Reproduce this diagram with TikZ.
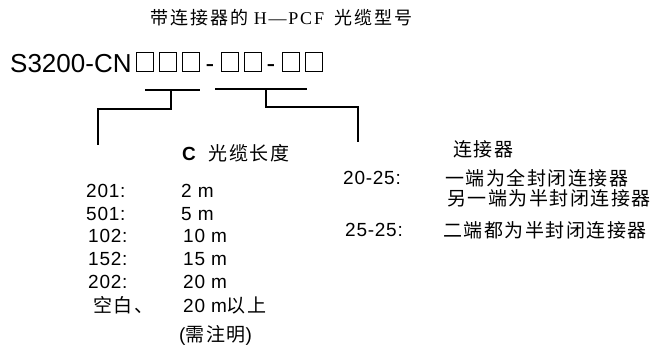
\documentclass[tikz,border=0pt]{standalone}
\usepackage{fontspec}
\setmainfont{Liberation Sans}
\newfontfamily\cjk[LetterSpace=8]{Noto Sans CJK SC}
\newfontfamily\titlecjk[LetterSpace=12]{Noto Sans CJK SC}
\newfontfamily\latin[LetterSpace=4]{Liberation Sans}
\newfontfamily\serifpart[LetterSpace=10]{Liberation Serif}
\usetikzlibrary{positioning}

\begin{document}
\begin{tikzpicture}[
    x=1pt,y=-1pt,
    txt/.style={
        inner sep=0pt,
        anchor=west,
        font=\fontsize{19}{19}\selectfont\latin
    },
    cjktxt/.style={
        inner sep=0pt,
        anchor=west,
        font=\fontsize{19}{19}\selectfont\cjk
    },
    slot/.style={
        draw,
        line width=1pt,
        anchor=south west,
        minimum width=17pt,
        minimum height=19pt,
        inner sep=0pt
    },
    bar/.style={
        line width=1.6pt
    }
]
\useasboundingbox (0,0) rectangle (655,345);

\node[cjktxt,font=\fontsize{18}{18}\selectfont\titlecjk] (title) at (150,18)
    {带连接器的\hspace{5pt}{\fontsize{18}{18}\selectfont\serifpart H—PCF}\hspace{10pt}光缆型号};

\node[inner sep=0pt,anchor=base west,font=\fontsize{26}{26}\selectfont] (model) at (10,72) {S3200-CN};
\node[slot] (slot1) at (136,72) {};
\node[slot] (slot2) at (159,72) {};
\node[slot] (slot3) at (182,72) {};
\node[inner sep=0pt,anchor=base,font=\fontsize{26}{26}\selectfont] (dash1) at (210,72) {-};
\node[slot] (slot4) at (220.5,72) {};
\node[slot] (slot5) at (243.5,72) {};
\node[inner sep=0pt,anchor=base,font=\fontsize{26}{26}\selectfont] (dash2) at (271,72) {-};
\node[slot] (slot6) at (282,72) {};
\node[slot] (slot7) at (305,72) {};

\coordinate (lenbarL) at (145,90);
\coordinate (lenbarR) at (200,90);
\coordinate (lenstem) at (171,90);
\coordinate (lenleg) at (98,145);
\coordinate (conbarL) at (215,89);
\coordinate (conbarR) at (307,89);
\coordinate (constem) at (266,89);
\coordinate (conleg) at (358,142);

\draw[bar] (lenbarL) -- (lenbarR);
\draw[bar] (lenstem) -- ++(0,19) -| (lenleg);
\draw[bar] (conbarL) -- (conbarR);
\draw[bar] (constem) -- ++(0,18) -| (conleg);

% cable length
\node[txt] (lenhead) at (182,153) {\textbf{C}\hspace{12pt}{\cjk 光缆长度}};
\node[txt] (k201) at (86,191) {201:};
\node[txt] (k501) at (86,214) {501:};
\node[txt] (k102) at (88,236) {102:};
\node[txt] (k152) at (88,259) {152:};
\node[txt] (k202) at (88,282) {202:};
\node[cjktxt] (kblank) at (93,305) {空白、};
\node[txt] (v201) at (181,191) {2 m};
\node[txt] (v501) at (181,214) {5 m};
\node[txt] (v102) at (183,236) {10 m};
\node[txt] (v152) at (183,259) {15 m};
\node[txt] (v202) at (183,282) {20 m};
\node[txt] (vblank) at (183,305) {20 m{\cjk 以上}};
\node[txt] (vnote) at (179,335) {({\cjk 需注明})};

% connectors
\node[cjktxt] (conhead) at (453,149) {连接器};
\node[txt] (k2025) at (343,178) {20-25:};
\node[cjktxt] (v2025a) at (445,178) {一端为全封闭连接器};
\node[cjktxt] (v2025b) at (447,198) {另一端为半封闭连接器};
\node[txt] (k2525) at (345,230) {25-25:};
\node[cjktxt] (v2525) at (443,230) {二端都为半封闭连接器};

\end{tikzpicture}
\end{document}
